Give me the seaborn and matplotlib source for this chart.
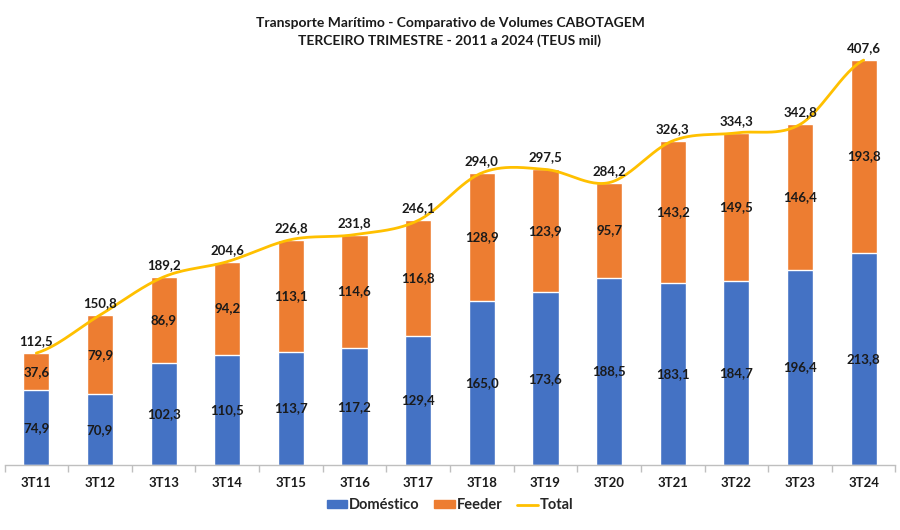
import matplotlib
matplotlib.use("Agg")
import matplotlib.pyplot as plt
import numpy as np
import pandas as pd
import seaborn as sns
from matplotlib.patches import Patch
from matplotlib.lines import Line2D

periods = ["3T11", "3T12", "3T13", "3T14", "3T15", "3T16", "3T17",
           "3T18", "3T19", "3T20", "3T21", "3T22", "3T23", "3T24"]
domestico = [74.9, 70.9, 102.3, 110.5, 113.7, 117.2, 129.4,
             165.0, 173.6, 188.5, 183.1, 184.7, 196.4, 213.8]
feeder = [37.6, 79.9, 86.9, 94.2, 113.1, 114.6, 116.8,
          128.9, 123.9, 95.7, 143.2, 149.5, 146.4, 193.8]
total = [112.5, 150.8, 189.2, 204.6, 226.8, 231.8, 246.1,
         294.0, 297.5, 284.2, 326.3, 334.3, 342.8, 407.6]

BLUE = "#4472C4"
ORANGE = "#ED7D31"
YELLOW = "#FFC000"
TXT = "#1a1a1a"


def fmt(v):
    return f"{v:.1f}".replace(".", ",")


def smooth(xs, ys, steps=30):
    # Excel-style smoothed line (Catmull-Rom through the points)
    xs, ys = np.asarray(xs, float), np.asarray(ys, float)
    px = np.concatenate([[2 * xs[0] - xs[1]], xs, [2 * xs[-1] - xs[-2]]])
    py = np.concatenate([[ys[0]], ys, [ys[-1]]])
    outx, outy = [], []
    for i in range(1, len(px) - 2):
        t = np.linspace(0, 1, steps)
        for p, out in ((px, outx), (py, outy)):
            p0, p1, p2, p3 = p[i - 1], p[i], p[i + 1], p[i + 2]
            c1 = p1 + (p2 - p0) / 6
            c2 = p2 - (p3 - p1) / 6
            out.extend((1 - t) ** 3 * p1 + 3 * (1 - t) ** 2 * t * c1
                       + 3 * (1 - t) * t ** 2 * c2 + t ** 3 * p2)
    return np.array(outx), np.array(outy)


df = pd.DataFrame({"periodo": periods, "Doméstico": domestico,
                   "Feeder": feeder, "Total": total})

sns.set_theme(style="white")
plt.rcParams["font.family"] = ["Lato", "DejaVu Sans"]

fig = plt.figure(figsize=(9, 5.3), dpi=100)
ax = fig.add_axes([0.005, 0.123, 0.99, 0.785])

# stacked look: total bar in orange, domestic bar drawn over it in blue
sns.barplot(data=df, x="periodo", y="Total", color=ORANGE, width=0.41,
            saturation=1, ax=ax, zorder=2)
sns.barplot(data=df, x="periodo", y="Doméstico", color=BLUE, width=0.41,
            saturation=1, ax=ax, zorder=2)

lx, ly = smooth(np.arange(len(total)), total)
ax.plot(lx, ly, color=YELLOW, lw=2, zorder=3)

for i in range(len(periods)):
    ax.text(i, domestico[i] / 2, fmt(domestico[i]), ha="center", va="center",
            fontsize=9.5, fontweight="bold", color=TXT, zorder=4)
    ax.text(i, domestico[i] + feeder[i] / 2, fmt(feeder[i]), ha="center",
            va="center", fontsize=9.5, fontweight="bold", color=TXT, zorder=4)
    ax.text(i, total[i] + 6, fmt(total[i]), ha="center", va="bottom",
            fontsize=9.5, fontweight="bold", color=TXT, zorder=4)

ax.set_xlim(-0.5, len(periods) - 0.5)
ax.set_ylim(0, 419)
ax.set_xlabel("")
ax.set_ylabel("")
ax.set_yticks([])
for s in ["top", "right", "left"]:
    ax.spines[s].set_visible(False)
ax.spines["bottom"].set_color("#bfbfbf")
ax.spines["bottom"].set_linewidth(1)
ax.set_xticks(np.arange(-0.5, len(periods), 1.0), minor=True)
ax.tick_params(axis="x", which="major", length=0, pad=9,
               labelsize=9.5, colors=TXT)
ax.tick_params(axis="x", which="minor", length=5, width=1,
               color="#bfbfbf", bottom=True)
for lab in ax.get_xticklabels():
    lab.set_fontweight("bold")

fig.text(0.5, 0.957, "Transporte Marítimo - Comparativo de Volumes CABOTAGEM",
         ha="center", va="center", fontsize=10, fontweight="bold", color=TXT)
fig.text(0.5, 0.923, "TERCEIRO TRIMESTRE - 2011 a 2024 (TEUS mil)",
         ha="center", va="center", fontsize=10, fontweight="bold", color=TXT)

handles = [Patch(color=BLUE, label="Doméstico"),
           Patch(color=ORANGE, label="Feeder"),
           Line2D([0], [0], color=YELLOW, lw=2, label="Total")]
fig.legend(handles=handles, loc="center", bbox_to_anchor=(0.5, 0.047),
           ncol=3, frameon=False, prop={"weight": "bold", "size": 10.5},
           handlelength=1.4, handleheight=0.4, handletextpad=0.15,
           columnspacing=1.0)

fig.savefig("out.png", dpi=100)
